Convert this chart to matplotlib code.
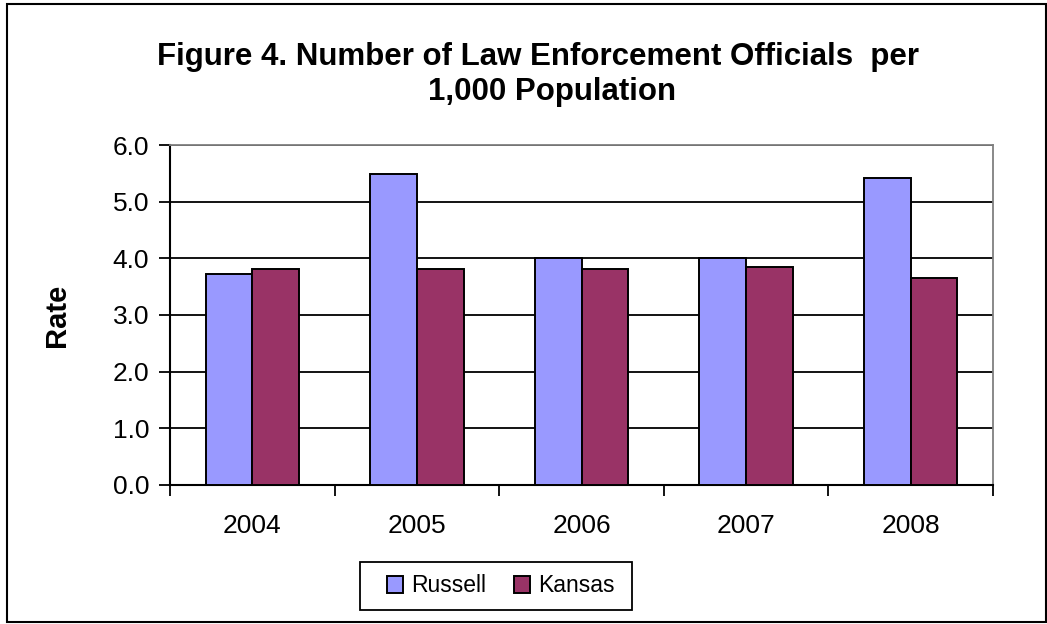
import matplotlib.pyplot as plt
import numpy as np
from matplotlib.patches import Rectangle

plt.rcParams['font.family'] = ['Liberation Sans', 'DejaVu Sans']

years = ['2004', '2005', '2006', '2007', '2008']
russell = [3.72, 5.49, 4.01, 4.01, 5.42]
kansas = [3.82, 3.82, 3.82, 3.85, 3.65]

W, H = 1047, 624
fig = plt.figure(figsize=(W / 100, H / 100), dpi=100)

# outer chart border
fig.patches.append(Rectangle((7 / W, 1 - 622 / H), (1046 - 7) / W, (622 - 4) / H,
                             transform=fig.transFigure, fill=False,
                             edgecolor='black', linewidth=1.5))

ax = fig.add_axes([170 / W, 1 - 485 / H, (993 - 170) / W, (485 - 145) / H])

x = np.arange(len(years))
bw = 0.284
ax.bar(x - bw / 2, russell, bw, color='#9999FF', edgecolor='black', linewidth=1.4,
       label='Russell', zorder=3)
ax.bar(x + bw / 2, kansas, bw, color='#993366', edgecolor='black', linewidth=1.4,
       label='Kansas', zorder=3)

ax.set_xlim(-0.5, len(years) - 0.5)
ax.set_ylim(0, 6)
ax.set_yticks(np.arange(0, 6.1, 1.0))
ax.set_yticklabels([f'{v:.1f}' for v in np.arange(0, 6.1, 1.0)], fontsize=19)

# category boundary ticks, labels centred
ax.set_xticks(np.arange(-0.5, len(years), 1.0))
ax.set_xticklabels([])
ax.set_xticks(x, minor=True)
ax.set_xticklabels(years, minor=True, fontsize=19)
ax.tick_params(axis='x', which='major', direction='out', length=8, width=1.3)
ax.tick_params(axis='x', which='minor', length=0, pad=21)
ax.tick_params(axis='y', direction='out', length=8, width=1.3, pad=7)

ax.yaxis.grid(True, color='black', linewidth=1.3)
ax.set_axisbelow(True)

for s in ['left', 'bottom']:
    ax.spines[s].set_color('black')
    ax.spines[s].set_linewidth(1.5)
for s in ['top', 'right']:
    ax.spines[s].set_color('#808080')
    ax.spines[s].set_linewidth(1.3)

ax.set_ylabel('Rate', fontsize=21, fontweight='bold', labelpad=30)

fig.text(538 / W, 1 - 65 / H, 'Figure 4. Number of Law Enforcement Officials  per',
         ha='center', va='baseline', fontsize=22.5, fontweight='bold')
fig.text(552 / W, 1 - 100 / H, '1,000 Population',
         ha='center', va='baseline', fontsize=22.5, fontweight='bold')

# legend box drawn like the Excel one, entries centred inside
fig.patches.append(Rectangle((360 / W, 1 - 610 / H), (632 - 360) / W, (610 - 562) / H,
                             transform=fig.transFigure, fill=False,
                             edgecolor='black', linewidth=1.3))
leg = fig.legend(loc='center', bbox_to_anchor=(501 / W, 1 - 586 / H), ncol=2,
                 fontsize=16.5, frameon=False,
                 handlelength=0.7, handleheight=0.7, handletextpad=0.35,
                 columnspacing=1.2, borderpad=0.3)

fig.savefig('out.png', dpi=100)
